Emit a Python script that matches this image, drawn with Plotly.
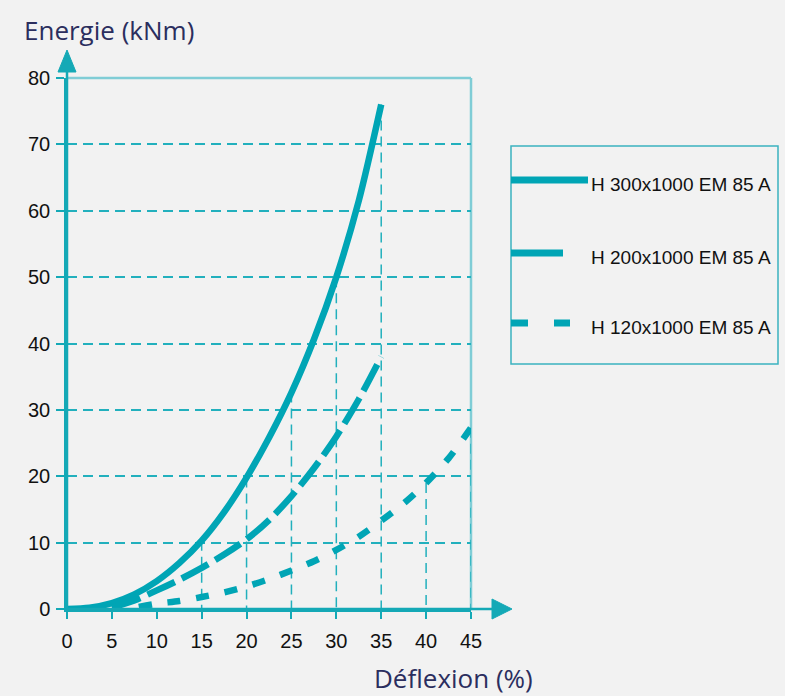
import numpy as np
import plotly.graph_objects as go

# ---- data ----
series_names = ["H 300x1000 EM 85 A", "H 200x1000 EM 85 A", "H 120x1000 EM 85 A"]

h300_x = [0, 2.5, 5, 7.5, 10, 12.5, 15, 17.5, 20, 22.5, 25, 27.5, 30, 32.5, 35]
h300_y = [0, 0.2, 0.9, 2.2, 4.2, 6.9, 10.3, 14.6, 19.8, 25.8, 32.6, 40.6, 50, 61.5, 76]

h200_x = [5, 7.5, 10, 12.5, 15, 17.5, 20, 22.5, 25, 27.5, 30, 32.5, 35]
h200_y = [0.2, 1.3, 2.8, 4.4, 6.2, 8.2, 10.5, 13.4, 17, 21.2, 26, 31.6, 38]

h120_x = [8, 10, 12.5, 15, 17.5, 20, 22.5, 25, 27.5, 30, 32.5, 35, 37.5, 40, 42.5, 45]
h120_y = [0.3, 0.8, 1.2, 1.8, 2.5, 3.4, 4.5, 5.8, 7.2, 8.9, 10.9, 13.3, 15.9, 19, 22.7, 27.3]

x_ticks = [0, 5, 10, 15, 20, 25, 30, 35, 40, 45]
y_ticks = [0, 10, 20, 30, 40, 50, 60, 70, 80]

drop_x_h300 = [15, 20, 25, 30, 35]
drop_x_h120 = [40, 45]

x_title = "Déflexion (%)"
y_title = "Energie (kNm)"

# ---- styling ----
TEAL = "#00a5b5"
AXIS = "#14a9b6"
GRID = "#22b0bd"
FRAME = "#80cdd6"
NAVY = "#2b2e5e"
BG = "#f2f2f2"
TICKFONT = dict(family="Liberation Sans, Arial, sans-serif", size=20, color="#111111")
LEGFONT = dict(family="Liberation Sans, Arial, sans-serif", size=19, color="#111111")

W, H = 785, 696
L, R, T, B = 67, 314, 78, 87
PW, PH = W - L - R, H - T - B


def px2paper(px, py):
    return (px - L) / PW, (H - B - py) / PH


fig = go.Figure()

# drop lines
dx, dy = [], []
for xv in drop_x_h300:
    dx += [xv, xv, None]
    dy += [float(np.interp(xv, h300_x, h300_y)), 0, None]
for xv in drop_x_h120:
    dx += [xv, xv, None]
    dy += [float(np.interp(xv, h120_x, h120_y)), 0, None]
fig.add_trace(go.Scatter(x=dx, y=dy, mode="lines", showlegend=False, hoverinfo="skip",
                         line=dict(color=GRID, width=1.5, dash="10px,6px")))

styles = [
    dict(dash="solid"),
    dict(dash="30px,8px"),
    dict(dash="13px,16px"),
]
for name, xs, ys, st in zip(series_names, [h300_x, h200_x, h120_x], [h300_y, h200_y, h120_y], styles):
    fig.add_trace(go.Scatter(x=xs, y=ys, mode="lines", name=name, showlegend=False,
                             line=dict(color=TEAL, width=6.5, dash=st["dash"], shape="spline",
                                       smoothing=0.8)))

shapes = []
# frame (top and right)
shapes.append(dict(type="line", xref="paper", yref="paper", x0=0, x1=1, y0=1, y1=1,
                   line=dict(color=FRAME, width=2.5), layer="below"))
shapes.append(dict(type="line", xref="paper", yref="paper", x0=1, x1=1, y0=0, y1=1,
                   line=dict(color=FRAME, width=2.5), layer="below"))

# axis extensions + arrows
ax_x_end = px2paper(492, 609)[0]
shapes.append(dict(type="line", xref="paper", yref="paper", x0=0, x1=ax_x_end, y0=0, y1=0,
                   line=dict(color=AXIS, width=2.5)))
tip = px2paper(512, 609)
b1 = px2paper(492, 599)
b2 = px2paper(492, 619)
shapes.append(dict(type="path", xref="paper", yref="paper",
                   path=f"M {tip[0]},{tip[1]} L {b1[0]},{b1[1]} L {b2[0]},{b2[1]} Z",
                   fillcolor=AXIS, line=dict(color=AXIS, width=1)))
ay_end = px2paper(67, 72)[1]
shapes.append(dict(type="line", xref="paper", yref="paper", x0=0, x1=0, y0=0, y1=ay_end,
                   line=dict(color=AXIS, width=2.5)))
tip = px2paper(67, 50)
b1 = px2paper(58, 72)
b2 = px2paper(76, 72)
shapes.append(dict(type="path", xref="paper", yref="paper",
                   path=f"M {tip[0]},{tip[1]} L {b1[0]},{b1[1]} L {b2[0]},{b2[1]} Z",
                   fillcolor=AXIS, line=dict(color=AXIS, width=1)))

# manual legend
lx0, ly1 = px2paper(511, 146)
lx1, ly0 = px2paper(778, 364)
shapes.append(dict(type="rect", xref="paper", yref="paper", x0=lx0, x1=lx1, y0=ly0, y1=ly1,
                   line=dict(color="#3bb3c0", width=1.5), fillcolor="rgba(0,0,0,0)"))
legend_rows_py = [180, 253, 323]
legend_line_end_px = [588, 563, 570]
legend_dash = ["solid", "solid", "17px,26px"]
annotations = []
for name, py, ex, dsh in zip(series_names, legend_rows_py, legend_line_end_px, legend_dash):
    xa, ya = px2paper(511, py)
    xb, _ = px2paper(ex, py)
    shapes.append(dict(type="line", xref="paper", yref="paper", x0=xa, x1=xb, y0=ya, y1=ya,
                       line=dict(color=TEAL, width=7, dash=dsh)))
    tx, ty = px2paper(589, py + 4)
    annotations.append(dict(xref="paper", yref="paper", x=tx, y=ty, xanchor="left", yanchor="middle",
                            text=name, showarrow=False, font=LEGFONT))

# axis titles
tx, ty = px2paper(22, 30)
annotations.append(dict(xref="paper", yref="paper", x=tx, y=ty, xanchor="left", yanchor="middle",
                        text=y_title, showarrow=False,
                        font=dict(family="Open Sans, sans-serif", size=26, color=NAVY)))
tx, ty = px2paper(535, 678)
annotations.append(dict(xref="paper", yref="paper", x=tx, y=ty, xanchor="right", yanchor="middle",
                        text=x_title, showarrow=False,
                        font=dict(family="Open Sans, sans-serif", size=26, color=NAVY)))

fig.update_layout(
    width=W, height=H,
    margin=dict(l=L, r=R, t=T, b=B, pad=0),
    paper_bgcolor=BG, plot_bgcolor=BG,
    showlegend=False,
    shapes=shapes,
    annotations=annotations,
    xaxis=dict(range=[0, 45], tickvals=x_ticks, ticks="outside", ticklen=7, tickwidth=2,
               tickcolor=AXIS, showline=True, linecolor=AXIS, linewidth=2.5,
               showgrid=False, zeroline=False, tickfont=TICKFONT, ticklabelstandoff=5,
               fixedrange=True),
    yaxis=dict(range=[0, 80], tickvals=y_ticks, ticks="outside", ticklen=8, tickwidth=2,
               tickcolor=AXIS, showline=True, linecolor=AXIS, linewidth=2.5,
               showgrid=True, gridcolor=GRID, gridwidth=1.5, griddash="10px,6px",
               zeroline=False, tickfont=TICKFONT, ticklabelstandoff=2, fixedrange=True),
)

fig.write_html("out.html", config={"displayModeBar": False},
               post_script="document.body.style.margin='0';document.body.style.background='#f2f2f2';")
